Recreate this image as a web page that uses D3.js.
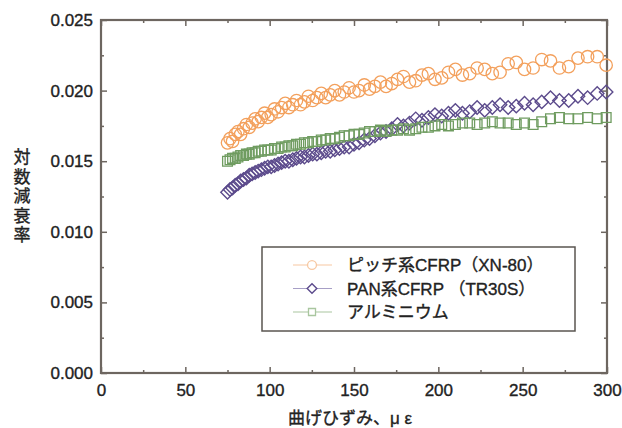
<!DOCTYPE html>
<html>
<head>
<meta charset="utf-8">
<script src="https://cdn.jsdelivr.net/npm/d3@7"></script>
<style>
body { margin: 0; background: #fff; }
text { font-family: "Liberation Sans", "Noto Sans CJK JP", sans-serif; fill: #222; stroke: #222; stroke-width: 0.35px; }
</style>
</head>
<body>
<script>
// bending strain (x), shared by the three series
var strain = [75.0, 76.5, 78.0, 79.6, 81.2, 82.8, 84.5, 86.2, 87.9, 89.6,
    91.4, 93.2, 95.1, 97.0, 98.9, 100.9, 102.9, 105.0, 107.1, 109.2,
    111.4, 113.7, 115.9, 118.3, 120.6, 123.0, 125.5, 128.0, 130.6, 133.2,
    135.9, 138.6, 141.4, 144.2, 147.1, 150.0, 153.0, 156.1, 159.2, 162.4,
    165.7, 169.0, 172.4, 175.8, 179.3, 182.9, 186.6, 190.3, 194.1, 198.0,
    202.0, 206.0, 210.1, 214.3, 218.6, 223.0, 227.5, 232.0, 236.6, 241.4,
    246.2, 251.1, 256.2, 261.3, 266.5, 271.8, 277.3, 282.8, 288.5, 294.2, 299.5];

// logarithmic decrement
var pitch = [.0163, .0166, .0164, .0169, .0171, .0169, .0173, .0176, .0174, .0177,
    .0180, .0178, .0181, .0184, .0181, .0183, .0187, .0185, .0188, .0191,
    .0188, .0190, .0193, .0190, .0192, .0196, .0193, .0195, .0198, .0195,
    .0197, .0200, .0197, .0199, .0202, .0199, .0200, .0204, .0201, .0203,
    .0206, .0203, .0205, .0208, .0210, .0206, .0207, .0211, .0212, .0208,
    .0209, .0213, .0215, .0211, .0212, .0216, .0215, .0212, .0213, .0219,
    .0220, .0215, .0216, .0222, .0221, .0216, .0217, .0223, .0224, .0224, .0218];

var pan = [.0128, .0130, .0131, .0133, .0134, .0136, .0137, .0138, .0140, .0141,
    .0142, .0143, .0144, .0145, .0146, .0146, .0147, .0148, .0149, .0150,
    .0150, .0151, .0152, .0153, .0153, .0154, .0155, .0155, .0156, .0157,
    .0157, .0158, .0159, .0160, .0160, .0162, .0163, .0165, .0166, .0168,
    .0170, .0171, .0173, .0176, .0175, .0177, .0180, .0179, .0181, .0183,
    .0182, .0184, .0186, .0184, .0185, .0188, .0186, .0188, .0190, .0188,
    .0189, .0191, .0190, .0192, .0195, .0193, .0193, .0196, .0195, .0198, .0199];

var alum = [.0150, .0151, .0152, .0152, .0153, .0154, .0154, .0155, .0155, .0156,
    .0156, .0157, .0157, .0158, .0158, .0158, .0159, .0159, .0160, .0160,
    .0161, .0161, .0162, .0162, .0163, .0163, .0164, .0164, .0165, .0165,
    .0166, .0166, .0167, .0168, .0168, .0169, .0169, .0170, .0171, .0171,
    .0172, .0171, .0172, .0172, .0173, .0172, .0173, .0174, .0174, .0175,
    .0176, .0175, .0176, .0177, .0177, .0176, .0177, .0178, .0177, .0177,
    .0176, .0177, .0176, .0178, .0180, .0181, .0180, .0180, .0181, .0180, .0181];

var seriesNames = ["ピッチ系CFRP（XN-80）", "PAN系CFRP （TR30S）", "アルミニウム"];
var xTicks = [0, 50, 100, 150, 200, 250, 300];
var xMinor = [25, 75, 125, 175, 225, 275];
var yTicks = [0, 0.005, 0.010, 0.015, 0.020, 0.025];
var yMinor = [0.0025, 0.0075, 0.0125, 0.0175, 0.0225];
var xTitle = "曲げひずみ、μ ε";
var yTitle = "対数減衰率";

var W = 622, H = 428;
var pLeft = 101, pRight = 607, pTop = 20, pBottom = 373;

var svg = d3.select("body").append("svg")
    .attr("width", W)
    .attr("height", H);

var x = d3.scaleLinear().domain([0, 300]).range([pLeft, pRight]);
var y = d3.scaleLinear().domain([0, 0.025]).range([pBottom, pTop]);

var axisColor = "#6d6660";

// ticks point inward on all four sides
function styleAxis(g) {
    g.select(".domain").remove();
    g.selectAll(".tick line").attr("stroke", axisColor).attr("stroke-width", 1.5);
    g.selectAll("text").style("font-size", "17px").attr("fill", "#222");
}

svg.append("g").attr("transform", "translate(0," + pBottom + ")")
    .call(d3.axisBottom(x).tickValues(xTicks).tickSize(-6).tickPadding(11).tickFormat(d3.format("d")))
    .call(styleAxis);
svg.append("g").attr("transform", "translate(0," + pBottom + ")")
    .call(d3.axisBottom(x).tickValues(xMinor).tickSize(-3).tickFormat(""))
    .call(styleAxis);
svg.append("g").attr("transform", "translate(0," + pTop + ")")
    .call(d3.axisTop(x).tickValues(xTicks).tickSize(-6).tickFormat(""))
    .call(styleAxis);
svg.append("g").attr("transform", "translate(0," + pTop + ")")
    .call(d3.axisTop(x).tickValues(xMinor).tickSize(-3).tickFormat(""))
    .call(styleAxis);

svg.append("g").attr("transform", "translate(" + pLeft + ",0)")
    .call(d3.axisLeft(y).tickValues(yTicks).tickSize(-6).tickPadding(8).tickFormat(d3.format(".3f")))
    .call(styleAxis);
svg.append("g").attr("transform", "translate(" + pLeft + ",0)")
    .call(d3.axisLeft(y).tickValues(yMinor).tickSize(-3).tickFormat(""))
    .call(styleAxis);
svg.append("g").attr("transform", "translate(" + pRight + ",0)")
    .call(d3.axisRight(y).tickValues(yTicks).tickSize(-6).tickFormat(""))
    .call(styleAxis);
svg.append("g").attr("transform", "translate(" + pRight + ",0)")
    .call(d3.axisRight(y).tickValues(yMinor).tickSize(-3).tickFormat(""))
    .call(styleAxis);

// frame
svg.append("rect")
    .attr("x", pLeft).attr("y", pTop)
    .attr("width", pRight - pLeft).attr("height", pBottom - pTop)
    .attr("fill", "none")
    .attr("stroke", axisColor)
    .attr("stroke-width", 2.2);

// titles
svg.append("text")
    .attr("x", 350)
    .attr("y", 424)
    .attr("text-anchor", "middle")
    .style("font-size", "17px")
    .text(xTitle);

svg.append("g").selectAll("text")
    .data(yTitle.split(""))
    .enter().append("text")
    .attr("x", 22)
    .attr("y", function (d, i) { return 163 + i * 19.5; })
    .attr("text-anchor", "middle")
    .style("font-size", "17px")
    .text(function (d) { return d; });

// markers
var series = [
    {name: seriesNames[0], values: pitch, color: "#f3a05c", light: "#f7c8a2", shape: "circle"},
    {name: seriesNames[1], values: pan, color: "#5c4b8c", light: "#a79fc6", shape: "diamond"},
    {name: seriesNames[2], values: alum, color: "#6f9c60", light: "#a9c69f", shape: "square"}
];

function marker(g, s, cx, cy, k) {
    k = k || 1;
    if (s.shape === "circle") {
        g.append("circle").attr("cx", cx).attr("cy", cy).attr("r", 6.2 * k)
            .attr("fill", "none").attr("stroke", s.color).attr("stroke-width", 1.3);
    } else if (s.shape === "diamond") {
        g.append("path").attr("d", d3.symbol().type(d3.symbolSquare).size(90 * k * k)())
            .attr("transform", "translate(" + cx + "," + cy + ") rotate(45)")
            .attr("fill", "none").attr("stroke", s.color).attr("stroke-width", 1.4);
    } else {
        g.append("path").attr("d", d3.symbol().type(d3.symbolSquare).size(95 * k * k)())
            .attr("transform", "translate(" + cx + "," + cy + ")")
            .attr("fill", "none").attr("stroke", s.color).attr("stroke-width", 1.3);
    }
}

var drawOrder = [1, 2, 0];
drawOrder.forEach(function (k) {
    var s = series[k];
    var g = svg.append("g").attr("class", "series");
    s.values.forEach(function (v, i) {
        marker(g, s, x(strain[i]), y(v));
    });
});

// legend
var lg = svg.append("g");
lg.append("rect")
    .attr("x", 262).attr("y", 247)
    .attr("width", 313).attr("height", 84)
    .attr("fill", "#fff")
    .attr("stroke", "#5a5550")
    .attr("stroke-width", 1.5);

series.forEach(function (s, i) {
    var ly = 265 + i * 23.5;
    lg.append("line")
        .attr("x1", 293).attr("x2", 332)
        .attr("y1", ly).attr("y2", ly)
        .attr("stroke", s.light).attr("stroke-width", 1.2);
    var mg = lg.append("g");
    mg.append("circle").attr("cx", 312).attr("cy", ly).attr("r", 4).attr("fill", "#fff").attr("stroke", "none");
    marker(mg, {shape: s.shape, color: s.shape === "diamond" ? s.color : s.light}, 312, ly, 0.72);
    lg.append("text")
        .attr("x", 347).attr("y", ly)
        .attr("dy", "0.36em")
        .style("font-size", "17px")
        .text(s.name);
});
</script>
</body>
</html>
